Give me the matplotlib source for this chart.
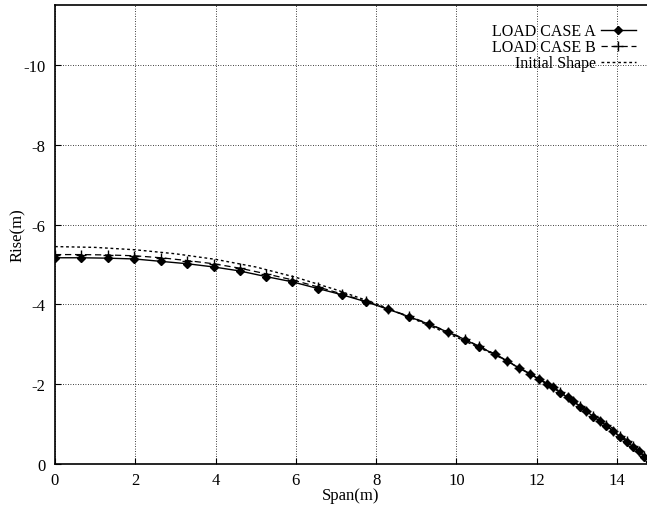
import matplotlib.pyplot as plt

plt.rcParams["font.family"] = ["Liberation Serif", "DejaVu Serif"]
plt.rcParams["axes.unicode_minus"] = False

# node positions along the span (m)
span = [0, 0.66, 1.32, 1.98, 2.64, 3.3, 3.95, 4.6, 5.25, 5.9, 6.55, 7.16, 7.74,
        8.3, 8.83, 9.33, 9.78, 10.22, 10.57, 10.96, 11.27, 11.57, 11.83, 12.05,
        12.27, 12.4, 12.59, 12.77, 12.91, 13.09, 13.24, 13.41, 13.57, 13.74,
        13.9, 14.07, 14.24, 14.4, 14.55, 14.68, 14.82]

rise_a = [-5.17, -5.17, -5.16, -5.14, -5.08, -5.02, -4.94, -4.84, -4.70, -4.57,
          -4.40, -4.24, -4.07, -3.88, -3.69, -3.50, -3.31, -3.12, -2.94, -2.75,
          -2.58, -2.40, -2.26, -2.13, -2.00, -1.92, -1.79, -1.67, -1.57, -1.44,
          -1.33, -1.19, -1.08, -0.96, -0.83, -0.69, -0.56, -0.44, -0.32, -0.19,
          -0.06]

rise_b = [-5.25, -5.25, -5.24, -5.22, -5.17, -5.10, -5.02, -4.91, -4.77, -4.62,
          -4.44, -4.26, -4.08, -3.89, -3.70, -3.51, -3.32, -3.13, -2.95, -2.76,
          -2.59, -2.41, -2.27, -2.14, -2.01, -1.93, -1.80, -1.68, -1.58, -1.45,
          -1.34, -1.20, -1.09, -0.97, -0.84, -0.70, -0.57, -0.45, -0.33, -0.20,
          -0.07]

span_init = [0, 1, 2, 3, 4, 5, 6, 7, 8, 9, 10, 11, 12, 13, 14, 14.82]
rise_init = [-5.45, -5.43, -5.37, -5.27, -5.13, -4.94, -4.68, -4.37, -4.02,
             -3.61, -3.18, -2.72, -2.18, -1.56, -0.82, -0.08]

xticks = [0, 2, 4, 6, 8, 10, 12, 14]
yticks = [0, -2, -4, -6, -8, -10]

fig = plt.figure(figsize=(6.47, 5.10), dpi=100)
ax = fig.add_axes([0.085, 0.088, 0.915, 0.9])

ax.plot(span, rise_a, color="black", lw=1.0, marker="D", ms=4,
        mfc="black", mec="black", label="LOAD CASE A")
ax.plot(span, rise_b, color="black", lw=0.9, ls=(0, (5, 3)), marker="+",
        ms=7, mew=1.0, label="LOAD CASE B")
ax.plot(span_init, rise_init, color="black", lw=1.0, ls=(0, (2, 2)),
        label="Initial Shape")

ax.set_xlim(0, 14.75)
ax.set_ylim(0, -11.5)
ax.set_xticks(xticks)
ax.set_yticks(yticks)
ax.grid(True, color="black", ls=(0, (1, 2)), lw=0.6)
ax.tick_params(direction="in", labelsize=12, length=4)
ax.tick_params(axis="y", pad=7)
ax.tick_params(axis="x", pad=6)
ax.spines["right"].set_visible(False)
for s in ["left", "bottom", "top"]:
    ax.spines[s].set_linewidth(1.2)

ax.set_xlabel("Span(m)", fontsize=12, labelpad=-1)
ax.set_ylabel("Rise(m)", fontsize=12, labelpad=-2)

leg = ax.legend(loc="upper right", frameon=False, markerfirst=False,
                fontsize=11.5, handlelength=2.2, handletextpad=0.3,
                labelspacing=0.0, borderaxespad=0.3,
                bbox_to_anchor=(1.0, 0.985))

fig.savefig("out.png", dpi=100)
